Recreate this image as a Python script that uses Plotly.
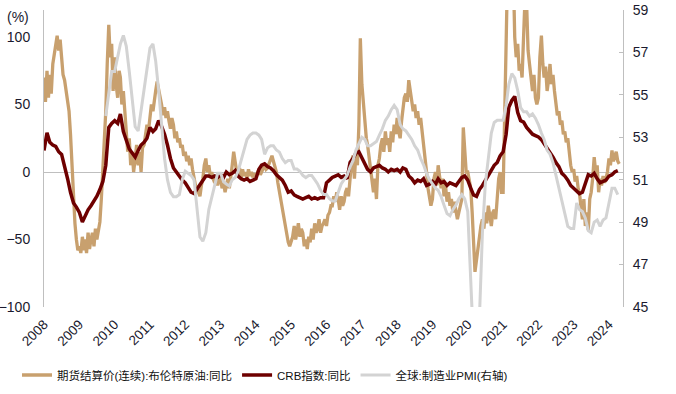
import pandas as pd
import plotly.graph_objects as go

# ---------------- data ----------------
# Brent futures settlement (continuous) YoY, %, two readings per month (1st, 16th), Jan 2008 - Apr 2024
brent_yoy = [
    70, 52, 75, 55, 72, 58, 80, 88, 95, 101, 90, 98, 85, 72, 68, 60, 55, 45, 28, 5, -20, -38, -50, -58,      # 2008
    -55, -60, -48, -58, -50, -60, -45, -57, -50, -45, -55, -42, -50, -45, -37, -20, 0, 20, 45, 80, 109, 85, 95, 60,  # 2009
    85, 65, 55, 75, 70, 50, 60, 45, 30, 15, 25, 5, 15, 0, 10, 20, 5, 15, 0, 18, 20, 28, 35, 30,          # 2010
    40, 50, 45, 55, 60, 67, 62, 55, 50, 42, 48, 40, 45, 38, 32, 40, 35, 25, 30, 22, 25, 18, 20, 12,      # 2011
    15, 8, 12, 5, 10, 2, -5, -10, -12, -15, -18, -10, -5, 5, 10, 0, 5, -3, 0, -5, -8, -3, -10, -5,       # 2012
    -5, -12, -8, -15, -10, -5, -12, -5, 5, 15, 8, 0, -2, 3, -5, 2, -3, 0, -5, 2, -3, 0, -4, -1,          # 2013
    -3, 0, 2, -2, 0, 3, 5, 2, 3, 6, 10, 12, 8, 3, 0, -8, -15, -22, -28, -35, -42, -48, -52, -55,         # 2014
    -52, -48, -40, -50, -45, -38, -48, -42, -45, -55, -50, -57, -48, -52, -42, -50, -38, -45, -42, -35, -45, -40, -38, -35,  # 2015
    -40, -32, -30, -25, -25, -18, -22, -15, -20, -28, -18, -25, -22, -15, -12, -18, -5, 8, 12, -5, 15, 5, 35, 99,  # 2016
    65, 50, 40, 25, 20, 10, 0, -8, -15, -5, -20, 5, 10, 20, 25, 15, 30, 20, 25, 15, 30, 22, 35, 28,      # 2017
    40, 30, 25, 38, 45, 55, 58, 52, 68, 60, 55, 45, 50, 40, 45, 35, 40, 30, 25, 10, 0, -12, -20, -25,    # 2018
    -20, -5, 0, -10, 5, -5, -12, -5, -18, -10, -22, -15, -25, -20, -30, -22, -28, -35, -30, -25, -20, 33, 10, 0,  # 2019
    0, -5, -12, -30, -55, -74, -65, -55, -50, -40, -35, -42, -30, -38, -25, -35, -40, -30, -28, -35, -20, -5, 0, -15,  # 2020
    -15, 30, 95, 150, 190, 210, 200, 150, 100, 85, 95, 75, 80, 70, 95, 130, 125, 90, 80, 70, 60, 72, 55, 50,  # 2021
    55, 85, 101, 80, 70, 78, 60, 68, 80, 65, 72, 60, 50, 42, 45, 35, 38, 28, 30, 22, 25, 12, 5, 0,       # 2022
    2, -7, -3, -12, -15, -25, -35, -20, -40, -30, -43, -20, -15, -5, 11, 0, 5, -15, -5, -10, -3, -8, -5, 0,  # 2023
    10, 5, 16, 8, 12, 15, 8, 6,                                                                       # 2024
]

# CRB index YoY, %, monthly, Jan 2008 - Apr 2024
crb_yoy = [
    16, 29, 22, 20, 19, 15, 13, 5, -5, -15, -23, -26,      # 2008
    -30, -37, -32, -28, -25, -22, -18, -13, -7, 5, 33, 36,  # 2009
    38, 36, 43, 30, 24, 17, 14, 11, 16, 20, 22, 25,        # 2010
    33, 30, 32, 38, 34, 28, 20, 10, 3, 0, -3, -6,          # 2011
    -8, -12, -15, -16, -13, -10, -6, -3, -3, -4, -3, -4,   # 2012
    -2, -4, 0, -2, -1, 1, -3, -5, -6, -5, -7, -6,          # 2013
    -5, 2, 5, 6, 4, 3, 1, -2, -4, -6, -10, -15,            # 2014
    -14, -17, -18, -19, -20, -19, -18, -20, -19, -20, -19, -19,  # 2015
    -8, -6, -4, -3, -2, -4, -3, -5, 7, 10, 14, 15,         # 2016
    10, 5, 2, 0, 3, 4, 5, 3, 2, 0, 2, 1,                   # 2017
    2, 0, 3, 2, -3, -5, -8, -6, -7, -5, -10, -9,           # 2018
    -7, -9, -5, -8, -7, -10, -8, -9, -10, -7, -4, -3,      # 2019
    -6, -12, -17, -18, -13, -10, -6, -2, 2, 5, 7, 12,      # 2020
    15, 28, 48, 53, 56, 44, 38, 37, 33, 30, 28, 27,        # 2021
    26, 24, 21, 18, 14, 11, 7, 4, -1, -3, -6, -10,         # 2022
    -12, -14, -16, -15, -8, -2, -3, -1, -5, -8, -7, -6,    # 2023
    -3, -2, 0, 1,                                          # 2024
]

# Global manufacturing PMI (right axis), monthly, Oct 2009 - Apr 2024
pmi = [
    54.0, 55.2, 56.1,                                                  # 2009 Oct-Dec
    56.1, 56.8, 57.4, 57.8, 57.3, 56.1, 54.8, 53.5, 53.3, 54.3, 55.4, 56.4,  # 2010
    57.2, 57.4, 56.6, 55.2, 53.5, 52.0, 51.0, 50.4, 50.2, 50.2, 50.3, 51.0,  # 2011
    51.4, 51.3, 51.2, 51.0, 49.5, 48.3, 48.1, 48.5, 49.6, 50.2, 50.8, 51.3,  # 2012
    51.3, 50.9, 50.8, 50.7, 51.0, 51.1, 51.4, 51.9, 52.4, 52.9, 53.1, 53.2,  # 2013
    53.2, 53.1, 52.9, 52.2, 52.5, 52.6, 52.6, 52.4, 52.3, 52.0, 51.8, 51.9,  # 2014
    51.9, 51.5, 51.5, 51.4, 51.2, 51.1, 51.2, 51.2, 51.0, 50.8, 50.5, 50.3,  # 2015
    50.3, 50.1, 50.0, 50.0, 50.4, 50.8, 51.0, 51.2, 51.6, 51.9, 52.4, 52.7,  # 2016
    53.0, 52.9, 52.6, 52.6, 52.7, 52.8, 53.1, 53.4, 53.8, 54.0, 54.3, 54.5,  # 2017
    54.3, 53.6, 53.4, 53.3, 53.1, 52.9, 52.6, 52.4, 52.0, 51.7, 51.3, 51.0,  # 2018
    50.8, 50.6, 50.5, 50.2, 49.8, 49.4, 49.3, 49.6, 49.8, 50.1, 50.3, 50.1,  # 2019
    49.5, 46.5, 42.0, 40.0, 44.5, 48.5, 50.8, 52.0, 53.2, 53.7, 53.8, 53.8,  # 2020
    53.8, 54.5, 55.5, 56.0, 55.8, 55.2, 54.4, 54.2, 54.2, 54.0, 54.1, 53.9,  # 2021
    53.6, 53.2, 52.9, 52.4, 52.2, 51.8, 51.2, 50.6, 50.0, 49.3, 48.8, 48.7,  # 2022
    48.7, 49.9, 49.6, 49.5, 49.2, 48.6, 48.5, 49.0, 49.1, 48.8, 49.1, 49.2,  # 2023
    50.0, 50.6, 50.6, 50.3,                                                  # 2024
]

brent_start, crb_start, pmi_start = "2008-01-01", "2008-01-01", "2009-10-01"
year_ticks = [str(y) for y in range(2008, 2025)]

names = ["期货结算价(连续):布伦特原油:同比", "CRB指数:同比", "全球:制造业PMI(右轴)"]
colors = ["#C8A06E", "#6E0000", "#D3D3D3"]

# ---------------- dates ----------------
months_b = pd.date_range(brent_start, periods=len(brent_yoy) // 2, freq="MS")
brent_dates = []
for m in months_b:
    brent_dates += [m, m + pd.Timedelta(days=15)]
crb_dates = pd.date_range(crb_start, periods=len(crb_yoy), freq="MS")
pmi_dates = pd.date_range(pmi_start, periods=len(pmi), freq="MS")

FONT = "Liberation Sans, Arial, Noto Sans CJK SC, sans-serif"
TXT = "#1a1a2e"

# plot area in pixels
L, R, T, B = 44, 53, 10, 87
W, H = 676, 394
PW, PH = W - L - R, H - T - B

fig = go.Figure()
fig.add_trace(go.Scatter(x=brent_dates, y=brent_yoy, name=names[0], mode="lines",
                         line=dict(color=colors[0], width=3.3), legendrank=1))
fig.add_trace(go.Scatter(x=pmi_dates, y=pmi, name=names[2], mode="lines", yaxis="y2",
                         line=dict(color=colors[2], width=3), legendrank=3))
fig.add_trace(go.Scatter(x=crb_dates, y=crb_yoy, name=names[1], mode="lines",
                         line=dict(color=colors[1], width=3.5), legendrank=2))

fig.update_layout(
    width=W, height=H,
    margin=dict(l=L, r=R, t=T, b=B, autoexpand=False),
    paper_bgcolor="white", plot_bgcolor="white",
    font=dict(family=FONT, size=14, color=TXT),
    showlegend=True,
    legend=dict(orientation="h", x=(17 - L) / PW, xanchor="left",
                y=(PH + T - 375) / PH, yanchor="middle",
                font=dict(size=11.5, color="#111111"), bgcolor="rgba(0,0,0,0)",
                itemwidth=30, traceorder="normal"),
    xaxis=dict(type="date", range=["2008-01-01", "2024-05-25"], automargin=False,
               tickmode="array", tickvals=[f"{y}-01-01" for y in year_ticks], ticktext=year_ticks,
               tickangle=-45, showgrid=False, showline=False, ticks="", zeroline=False,
               ticklabelstandoff=6, tickfont=dict(size=13.5, color=TXT)),
    yaxis=dict(range=[-100, 120], tickvals=[-100, -50, 0, 50, 100], showgrid=False, automargin=False,
               showline=True, linecolor="#BFBFBF", linewidth=1, ticks="",
               zeroline=True, zerolinecolor="#BFBFBF", zerolinewidth=1,
               ticklabelstandoff=10, tickfont=dict(size=14, color=TXT)),
    yaxis2=dict(range=[45, 59], tickvals=list(range(45, 60, 2)), overlaying="y", side="right",
                showgrid=False, showline=True, linecolor="#BFBFBF", linewidth=1, automargin=False,
                ticks="inside", ticklen=4, tickcolor="#BFBFBF", zeroline=False,
                ticklabelstandoff=6, tickfont=dict(size=14, color=TXT)),
    annotations=[dict(text="(%)", x=(18 - L) / PW, y=(PH + T - 17) / PH, xref="paper", yref="paper",
                      showarrow=False, xanchor="center", yanchor="middle",
                      font=dict(size=14, color=TXT))],
)

# remove the browser's default 8px body margin so the figure sits at the page origin
fig.write_html("out.html", config={"displayModeBar": False},
               post_script="document.body.style.margin='0px';")
